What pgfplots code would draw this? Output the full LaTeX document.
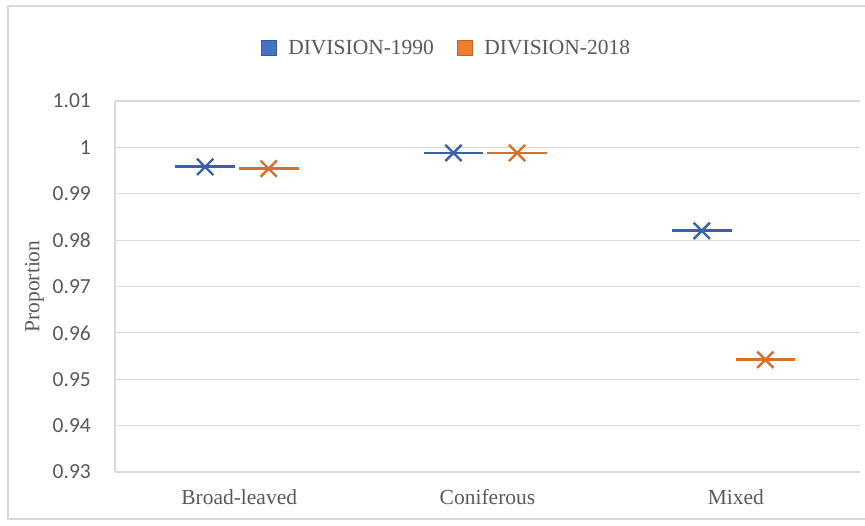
\documentclass[border=0pt]{standalone}
\usepackage{pgfplots}
\pgfplotsset{compat=1.18}
\usepackage{pgfplotstable}
\usepackage{fontspec}
\setmainfont{Liberation Serif}
\newfontfamily\calibri{Carlito}

\definecolor{xlblue}{HTML}{4472C4}
\definecolor{xlorange}{HTML}{ED7D31}
\definecolor{xltext}{HTML}{595959}
\definecolor{xlgrid}{HTML}{D9D9D9}

% proportion of each forest type (x = category index)
\pgfplotstableread{
x y
0 0.9958
1 0.9988
2 0.9820
}\divnineteen

\pgfplotstableread{
x y
0 0.9954
1 0.9988
2 0.9542
}\divtwenty

\begin{document}
\begin{tikzpicture}
\useasboundingbox (0,0) rectangle (865bp,526bp);
\draw[xlgrid, line width=1.2bp] (8bp,7bp) rectangle (885bp,520bp);
\begin{axis}[
  at={(115bp,54bp)}, anchor=south west,
  scale only axis, width=745bp, height=371bp,
  xmin=-0.5, xmax=2.5, ymin=0.93, ymax=1.01,
  xtick={0,1,2}, xticklabels={Broad-leaved,Coniferous,Mixed},
  ytick={0.93,0.94,0.95,0.96,0.97,0.98,0.99,1,1.01},
  yticklabels={0.93,0.94,0.95,0.96,0.97,0.98,0.99,1,1.01},
  major tick length=0pt,
  ymajorgrids, grid style={xlgrid, line width=1.2bp},
  axis x line*=bottom,
  separate axis lines,
  y axis line style={xlgrid, line width=1.2bp},
  x axis line style={draw=none},
  axis y line*=left,
  yticklabel style={font=\calibri\fontsize{21.5bp}{26bp}\selectfont, text=xltext, inner sep=0pt, xshift=-24bp},
  xticklabel style={font=\fontsize{21.5bp}{26bp}\selectfont, text=xltext, inner sep=0pt, yshift=-17bp},
  ylabel={Proportion},
  ylabel style={font=\fontsize{21.5bp}{26bp}\selectfont, text=xltext, at={(axis description cs:-0.108,0.5)}, anchor=center, rotate=0},
  legend columns=2,
  legend style={draw=none, fill=none, at={(0.4436,1.143)}, anchor=center,
    font=\fontsize{21.5bp}{26bp}\selectfont, text=xltext,
    nodes={inner sep=0pt},
    /tikz/every even column/.append style={column sep=23bp}},
  legend image code/.code={\fill[#1] (0bp,-7.5bp) rectangle (15bp,7.5bp);},
  legend cell align=left,
  clip=false,
]
\addlegendimage{fill=xlblue, draw=xlblue!80!black}
\addlegendentry{\hspace{12bp}DIVISION-1990}
\addlegendimage{fill=xlorange, draw=xlorange!80!black}
\addlegendentry{\hspace{12bp}DIVISION-2018}

\addplot[forget plot, only marks, mark=x, mark size=11.5bp,
  mark options={line width=2.4bp, draw=xlblue!85!black},
  error bars/.cd, x dir=both, x fixed=0.12, error mark=none,
  error bar style={line width=2.8bp, draw=xlblue!85!black}]
  table[x expr=\thisrow{x}-0.137, y=y] {\divnineteen};

\addplot[forget plot, only marks, mark=x, mark size=11.5bp,
  mark options={line width=2.4bp, draw=xlorange!90!black},
  error bars/.cd, x dir=both, x fixed=0.12, error mark=none,
  error bar style={line width=2.8bp, draw=xlorange!90!black}]
  table[x expr=\thisrow{x}+0.119, y=y] {\divtwenty};
\end{axis}
\end{tikzpicture}
\end{document}
